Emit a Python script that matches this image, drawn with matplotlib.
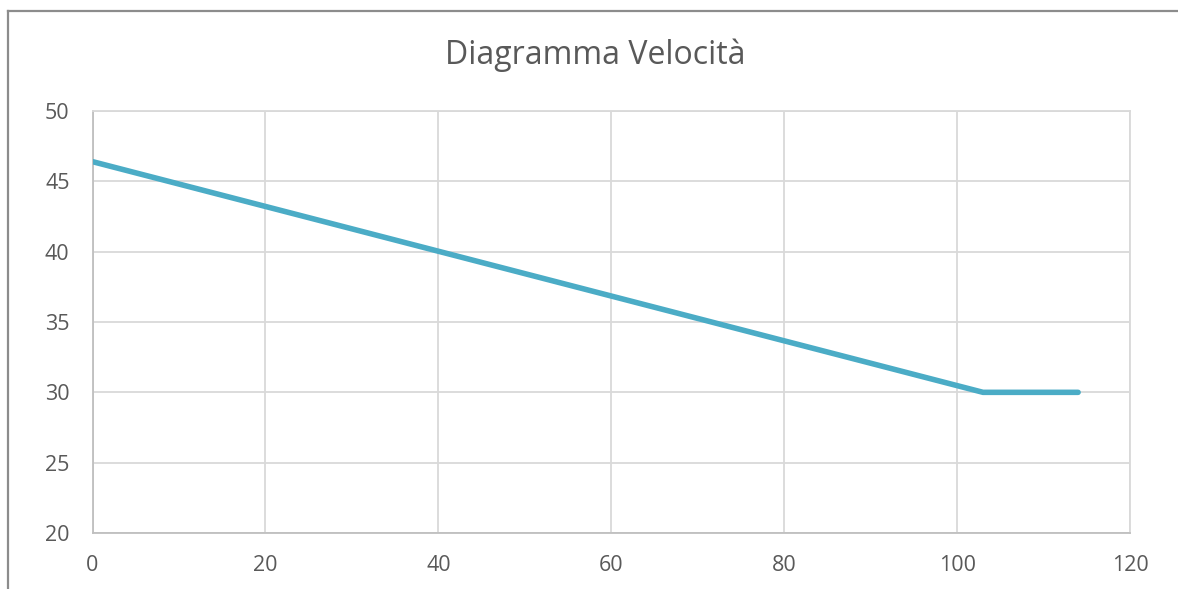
import matplotlib
matplotlib.use('Agg')
import matplotlib.pyplot as plt
from matplotlib.lines import Line2D

# Velocity vs distance
distance = [0, 103, 114]
velocity = [46.4, 30, 30]

x_ticks = [0, 20, 40, 60, 80, 100, 120]
y_ticks = [20, 25, 30, 35, 40, 45, 50]

plt.rcParams['font.family'] = ['Open Sans', 'DejaVu Sans']

fig = plt.figure(figsize=(11.78, 5.89), dpi=100)
ax = fig.add_axes([92.5 / 1178, 56 / 589, (1130 - 92.5) / 1178, (533 - 111) / 589])

ax.plot(distance, velocity, color='#4BACC6', linewidth=4, solid_capstyle='round',
        solid_joinstyle='round', zorder=3)

ax.set_xlim(0, 120)
ax.set_ylim(20, 50)
ax.set_xticks(x_ticks)
ax.set_yticks(y_ticks)
ax.grid(True, color='#d9d9d9', linewidth=1.3)
ax.set_axisbelow(True)
for s in ax.spines.values():
    s.set_color('#d9d9d9')
    s.set_linewidth(1.3)
ax.spines['bottom'].set_color('#bfbfbf')
ax.spines['left'].set_color('#bfbfbf')
ax.tick_params(length=0, labelsize=15.5, colors='#595959')
ax.tick_params(axis='y', pad=16.5)
ax.tick_params(axis='x', pad=16)

fig.text(595 / 1178, 1 - 55 / 589, 'Diagramma Velocità', ha='center', va='center',
         fontsize=23, color='#595959')

# chart frame (left and top edges)
fig.add_artist(Line2D([8 / 1178, 8 / 1178], [0, 1 - 11 / 589], color='#8c8c8c', linewidth=1.6,
                      transform=fig.transFigure))
fig.add_artist(Line2D([8 / 1178, 1], [1 - 11 / 589, 1 - 11 / 589], color='#8c8c8c', linewidth=1.6,
                      transform=fig.transFigure))

fig.savefig('out.png', dpi=100)
